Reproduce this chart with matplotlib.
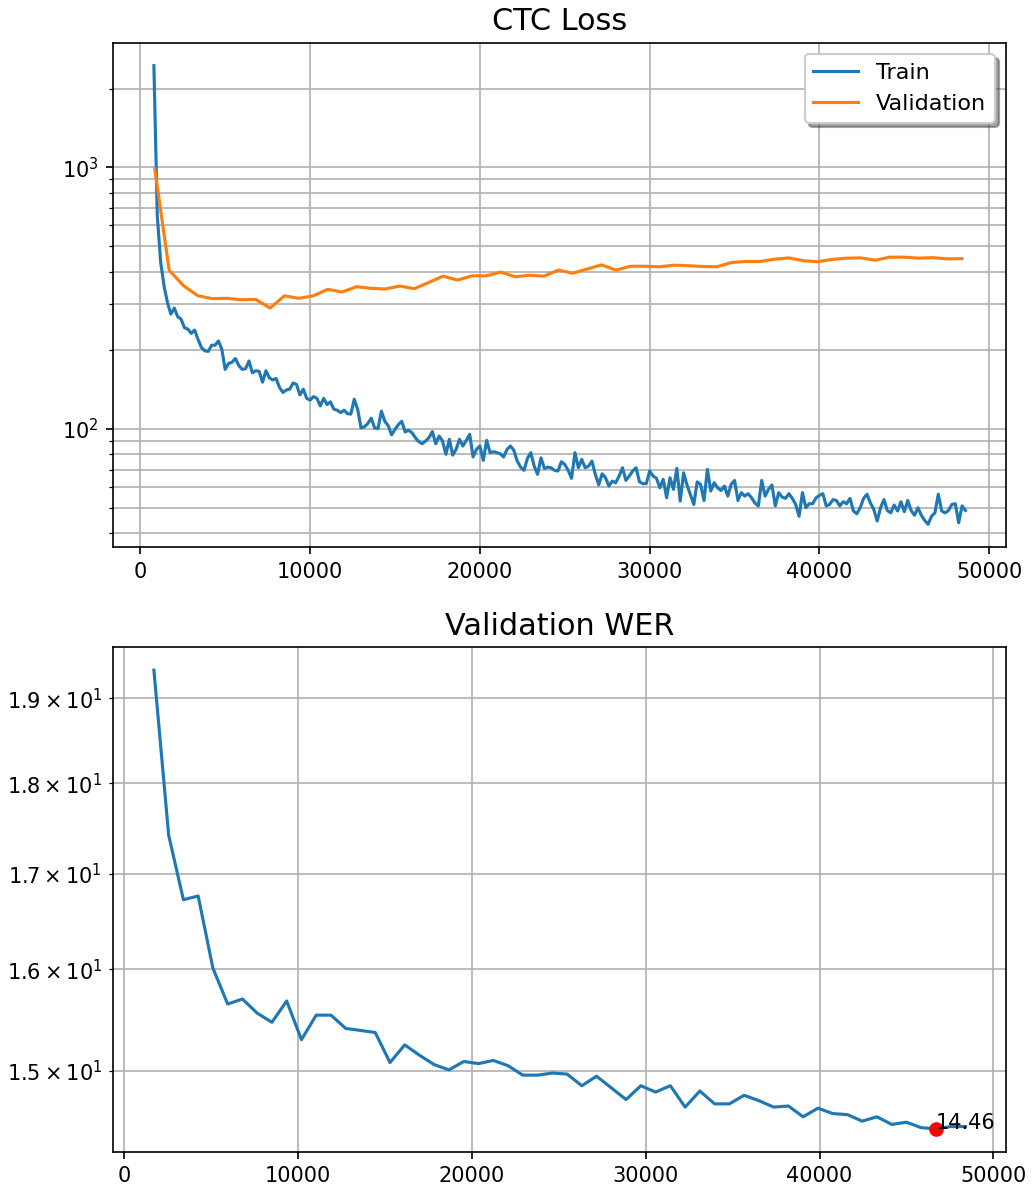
import numpy as np
import matplotlib
matplotlib.use('Agg')
import matplotlib.pyplot as plt

# training loss logged every 200 steps, validation once per epoch
train_steps = np.arange(800, 48601, 200)
train_loss = [
    2450, 653, 433, 352, 304, 275, 290, 269, 263, 244,
    241, 232, 239, 220, 205, 199, 198, 209, 209, 217,
    202, 169, 178, 180, 186, 175, 169, 170, 182, 164,
    167, 166, 151, 167, 157, 154, 156, 144, 138, 141,
    142, 150, 148, 135, 142, 131, 129, 133, 131, 122.5,
    131, 124, 127, 119, 118, 115.5, 118, 114.5, 114, 130,
    119, 101, 102, 105, 110, 101, 100.3, 117, 107, 103,
    95, 99.7, 104, 107, 97.4, 98.9, 96.8, 92.6, 89.5, 87.8,
    90, 92.6, 97.7, 87.8, 94, 90, 80, 91.3, 79.5, 83.6,
    91.3, 86.1, 90.5, 95.4, 78.2, 83.6, 86.1, 75.9, 90.5, 81.2,
    81.9, 81.2, 80.4, 78.2, 83.6, 86.1, 82.9, 75.4, 71.5, 69.5,
    77.2, 81.2, 72.1, 67.1, 77.6, 70.7, 71.5, 71, 69.5, 69.1,
    75, 73.2, 69.5, 64.8, 81.2, 71.1, 76.5, 71.1, 72.1, 75.4,
    67.1, 61.1, 67.4, 65.1, 60.5, 63.2, 62.3, 66.1, 71.1, 63.6,
    66.1, 69.1, 71.1, 62.8, 61.8, 61.8, 69.1, 66.1, 64.8, 59.6,
    64.2, 54.6, 65.1, 58.8, 70.7, 53, 68, 61, 56, 51.5,
    62.8, 61.4, 53.3, 70.1, 57.9, 62.3, 59.6, 58.2, 60.5, 55.4,
    61.4, 63.6, 53.3, 57.1, 55.4, 56.6, 54.6, 52.1, 50.8, 63.6,
    55.4, 58.8, 61.1, 50.8, 57.1, 54.9, 54.3, 56.6, 54.3, 51.5,
    46.4, 57.1, 50, 51.8, 51.8, 54.6, 55.7, 56.6, 50.8, 51.5,
    53.7, 53.3, 50.8, 52.7, 51.8, 54.3, 48.6, 47.4, 50, 54.3,
    56.3, 52.2, 49.3, 44.5, 50, 53.7, 48.8, 47.8, 51.2, 48.6,
    52.7, 48.3, 53.3, 48.8, 46.8, 50, 46.8, 44.7, 43.2, 46.4,
    47.8, 56.3, 48.6, 47.8, 48.8, 51.5, 51.8, 43.8, 50.8, 48.8,
]

steps_per_epoch = 849
val_epochs = np.arange(1, 58)
val_loss = [
    990, 405, 353, 323, 315, 316, 312, 313, 290, 323,
    316, 323, 342, 334, 350, 345, 343, 352, 344, 363,
    384, 371, 385, 385, 398, 382, 387, 384, 405, 394,
    409, 424, 405, 419, 419, 417, 423, 421, 418, 417,
    433, 437, 437, 446, 451, 440, 436, 445, 450, 451,
    442, 454, 454, 450, 452, 447, 448,
]

wer_epochs = np.arange(2, 58)
val_wer = [
    19.34, 17.42, 16.72, 16.76, 16.01, 15.65, 15.70, 15.56, 15.47, 15.68,
    15.30, 15.54, 15.54, 15.41, 15.39, 15.37, 15.08, 15.25, 15.15, 15.06,
    15.01, 15.09, 15.07, 15.10, 15.05, 14.96, 14.96, 14.98, 14.97, 14.86,
    14.95, 14.84, 14.73, 14.86, 14.80, 14.86, 14.66, 14.81, 14.69, 14.69,
    14.77, 14.72, 14.66, 14.67, 14.57, 14.65, 14.60, 14.59, 14.53, 14.57,
    14.50, 14.52, 14.47, 14.46, 14.48, 14.48,
]

val_steps = val_epochs * steps_per_epoch
wer_steps = wer_epochs * steps_per_epoch

fig = plt.figure(figsize=(1033 / 150, 1190 / 150), dpi=150)
ax1 = fig.add_axes([0.1097, 0.5401, 0.8642, 0.4240])
ax2 = fig.add_axes([0.1097, 0.0322, 0.8642, 0.4239])

ax1.plot(train_steps, train_loss, label='Train')
ax1.plot(val_steps, val_loss, label='Validation')
ax1.set_yscale('log')
ax1.grid(True, which='both')
ax1.legend(loc='upper right', shadow=True, fontsize=10.7)
ax1.set_title('CTC Loss', fontsize=14.5)

ax2.plot(wer_steps, val_wer)
ax2.set_yscale('log')
ax2.grid(True, which='both')
best = int(np.argmin(val_wer))
ax2.scatter(wer_steps[best], val_wer[best], color='red', zorder=3)
ax2.text(wer_steps[best], val_wer[best], f'{val_wer[best]:.2f}')
ax2.set_title('Validation WER', fontsize=14.5)

fig.savefig('out.png', dpi=150)
